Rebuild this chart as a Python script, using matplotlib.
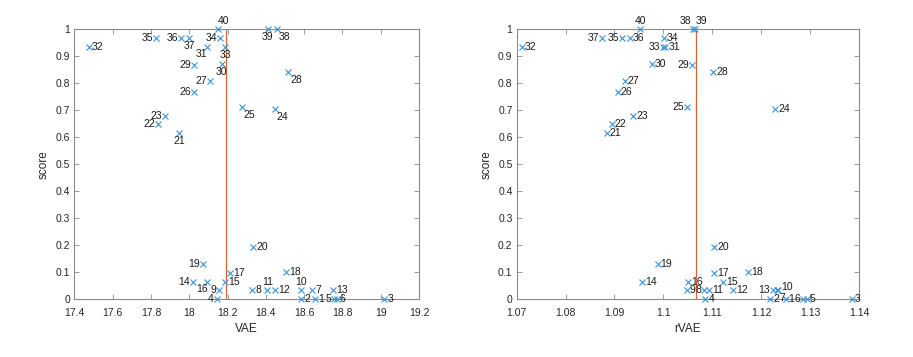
import matplotlib
matplotlib.use("Agg")
import matplotlib.pyplot as plt
from matplotlib.ticker import FuncFormatter, MultipleLocator
import numpy as np

plt.rcParams['font.family'] = ['Liberation Sans', 'DejaVu Sans']

ids = list(range(1, 41))
score = [0, 0, 0, 0, 0, 0, 0.033, 0.033, 0.033, 0.033,
         0.033, 0.033, 0.033, 0.065, 0.065, 0.065, 0.098, 0.1, 0.131, 0.195,
         0.615, 0.647, 0.679, 0.704, 0.712, 0.768, 0.808, 0.841, 0.867, 0.872,
         0.935, 0.935, 0.935, 0.967, 0.967, 0.967, 0.967, 1.0, 1.0, 1.0]
vae = [18.659, 18.584, 19.019, 18.145, 18.758, 18.770, 18.643, 18.328, 18.156, 18.584,
       18.408, 18.450, 18.753, 18.018, 18.187, 18.093, 18.213, 18.505, 18.074, 18.333,
       17.948, 17.839, 17.874, 18.446, 18.274, 18.025, 18.110, 18.518, 18.025, 18.170,
       18.091, 17.477, 18.187, 18.162, 17.825, 17.957, 17.999, 18.458, 18.411, 18.149]
rvae = [1.1250, 1.1219, 1.1386, 1.1086, 1.1293, 1.1286, 1.1233, 1.1084, 1.1048, 1.1234,
        1.1093, 1.1142, 1.1224, 1.0956, 1.1122, 1.1050, 1.1103, 1.1173, 1.0988, 1.1104,
        1.0884, 1.0894, 1.0938, 1.1229, 1.1049, 1.0907, 1.0921, 1.1102, 1.1059, 1.0977,
        1.1004, 1.0710, 1.0999, 1.1001, 1.0916, 1.0932, 1.0874, 1.1060, 1.1065, 1.0953]
vae_threshold = 18.19
rvae_threshold = 1.1067

# label placement (style only)
pos_left = ['E', 'E', 'E', 'W', 'W', 'E', 'E', 'E', 'W', 'N',
            'N', 'E', 'E', 'W', 'E', 'SW', 'E', 'E', 'W', 'E',
            'S', 'W', 'W', 'SE', 'SE', 'W', 'W', 'SE', 'W', 'S',
            'SW', 'E', 'S', 'W', 'W', 'W', 'S', 'SE', 'S', 'NE']
pos_right = ['E', 'E', 'E', 'E', 'E', 'W', 'SE', 'W', 'E', 'ENE',
             'E', 'E', 'W', 'E', 'E', 'E', 'E', 'E', 'E', 'E',
             'E', 'E', 'E', 'E', 'W', 'E', 'E', 'E', 'W', 'E',
             'E', 'E', 'W', 'E', 'W', 'E', 'W', 'NW', 'NE', 'N']

PX = 0.72
spec = {
    'E': (3, 0, 'left'), 'W': (-3, 0, 'right'), 'N': (0, 8, 'center'),
    'NE': (0, 8, 'left'), 'NW': (-1, 8, 'right'), 'S': (0, -8, 'center'),
    'SE': (2, -8, 'left'), 'SW': (1, -7, 'right'), 'ENE': (3, 3.5, 'left'),
}

W, H = 913, 357
fig = plt.figure(figsize=(W / 100, H / 100), dpi=100)

axcol = '#8a8a8a'
txtcol = '#262626'
mcol = '#3b93d8'
lcol = '#DD6230'

def panel(rect, xs, xlim, xstep, thr, xlabel, pos):
    ax = fig.add_axes(rect)
    ax.plot(xs, score, linestyle='none', marker='x', markersize=4.5,
            markeredgewidth=0.8, color=mcol, zorder=3, clip_on=False)
    ax.axvline(thr, color=lcol, linewidth=0.9, zorder=2)
    for i, x, y, p in zip(ids, xs, score, pos):
        dx, dy, ha = spec[p]
        ax.annotate(str(i), (x, y), xytext=(dx * PX, dy * PX), textcoords='offset points',
                    ha=ha, va='center', fontsize=7.5, color='#1a1a1a', annotation_clip=False)
    ax.set_xlim(*xlim)
    ax.set_ylim(0, 1)
    ax.xaxis.set_major_locator(MultipleLocator(xstep))
    ax.yaxis.set_major_locator(MultipleLocator(0.1))
    fmt = FuncFormatter(lambda v, _: '%g' % round(v, 6))
    ax.xaxis.set_major_formatter(fmt)
    ax.yaxis.set_major_formatter(fmt)
    ax.tick_params(direction='in', length=3.5, width=0.6, color=axcol, labelcolor=txtcol,
                   labelsize=7.5, top=True, right=True)
    ax.tick_params(axis='x', pad=6)
    ax.tick_params(axis='y', pad=3)
    for s in ax.spines.values():
        s.set_color(axcol)
        s.set_linewidth(0.8)
    ax.set_xlabel(xlabel, fontsize=8.5, color=txtcol, labelpad=4)
    ax.set_ylabel('score', fontsize=8.5, color=txtcol, labelpad=4)
    return ax

panel([74.3 / W, 57.7 / H, 344.7 / W, 270.3 / H], vae, (17.4, 19.2), 0.2,
      vae_threshold, 'VAE', pos_left)
panel([516.7 / W, 57.7 / H, 342.3 / W, 270.3 / H], rvae, (1.07, 1.14), 0.01,
      rvae_threshold, 'rVAE', pos_right)

fig.savefig('out.png', dpi=100)
